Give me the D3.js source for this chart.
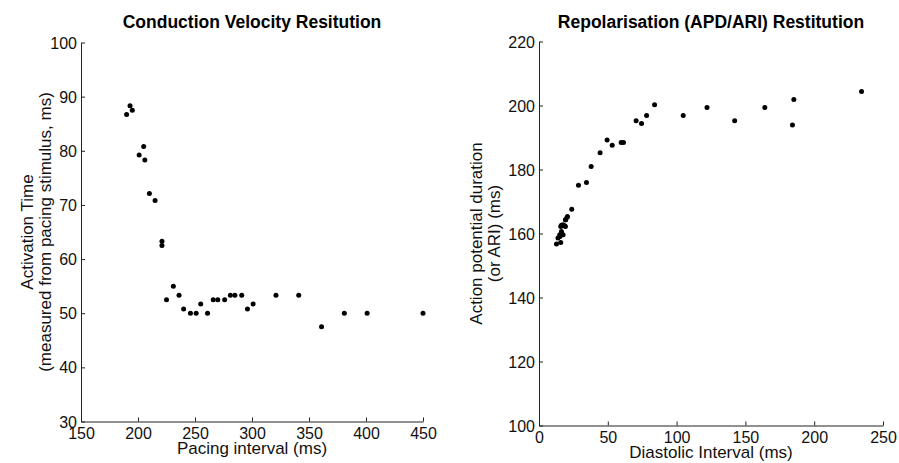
<!DOCTYPE html>
<html>
<head>
<meta charset="utf-8">
<script src="https://cdn.jsdelivr.net/npm/d3@7"></script>
<style>
  body { margin: 0; background: #fff; }
  svg { display: block; font-family: "Liberation Sans", Arial, Helvetica, sans-serif; }
</style>
</head>
<body>
<div id="chart"></div>
<script>
// conduction velocity restitution: pacing interval vs activation time
const cvPacing = [190, 193, 195, 205, 201, 206, 210, 215, 221, 221, 225, 231, 236, 240, 246, 251,
  255, 261, 266, 270, 276, 281, 285, 291, 296, 301, 321, 341, 361, 381, 401, 450];
const cvActivation = [86.7, 88.3, 87.5, 80.8, 79.2, 78.3, 72.1, 70.8, 63.3, 62.5, 52.5, 55.0, 53.3, 50.8, 50.0, 50.0,
  51.7, 50.0, 52.5, 52.5, 52.5, 53.3, 53.3, 53.3, 50.8, 51.7, 53.3, 53.3, 47.5, 50.0, 50.0, 50.0];

// repolarisation restitution: diastolic interval vs APD/ARI
const apdDI = [12.7, 15.8, 13.8, 15.1, 17.5, 16.3, 15.3, 15.8, 19.2, 17.5, 16.3, 18.7, 19.2, 19.4, 20.4, 20.7,
  23.8, 28.7, 34.5, 37.9, 44.4, 49.5, 53.2, 59.7, 61.4, 70.6, 74.5, 78.2, 84.0,
  104.8, 122.1, 142.2, 164.1, 184.2, 185.2, 234.4];
const apdValue = [156.7, 157.2, 158.6, 159.6, 159.6, 160.6, 159.1, 162.2, 162.2, 162.7, 162.6, 162.4, 164.3, 164.3, 165.1, 165.3,
  167.6, 175.1, 175.9, 180.9, 185.2, 189.2, 187.6, 188.4, 188.4, 195.2, 194.4, 196.9, 200.2,
  196.9, 199.4, 195.2, 199.4, 193.9, 201.9, 204.4];

const cvXTicks = [150, 200, 250, 300, 350, 400, 450];
const cvYTicks = [30, 40, 50, 60, 70, 80, 90, 100];
const apdXTicks = [0, 50, 100, 150, 200, 250];
const apdYTicks = [100, 120, 140, 160, 180, 200, 220];

const W = 899, H = 463;
const svg = d3.select("#chart").append("svg")
  .attr("width", W)
  .attr("height", H);

function panel(opts) {
  const x = d3.scaleLinear().domain(d3.extent(opts.xTicks)).range([opts.left, opts.right]);
  const y = d3.scaleLinear().domain(d3.extent(opts.yTicks)).range([opts.bottom, opts.top]);
  const g = svg.append("g");

  const xAxis = g.append("g")
    .attr("transform", `translate(0,${opts.bottom})`)
    .call(d3.axisBottom(x).tickValues(opts.xTicks).tickFormat(d3.format("d"))
      .tickSizeInner(-4).tickSizeOuter(0).tickPadding(6));
  const yAxis = g.append("g")
    .attr("transform", `translate(${opts.left},0)`)
    .call(d3.axisLeft(y).tickValues(opts.yTicks).tickFormat(d3.format("d"))
      .tickSizeInner(-4).tickSizeOuter(0).tickPadding(4));

  [xAxis, yAxis].forEach(a => {
    a.selectAll("path, line").attr("stroke", "#222").attr("stroke-width", 1);
    a.selectAll("text").attr("font-size", 16).attr("fill", "#111")
      .attr("font-family", "Liberation Sans, Arial, sans-serif");
  });
  yAxis.selectAll("text").attr("dy", "0.35em");

  g.selectAll("circle.pt")
    .data(opts.xs.map((v, i) => [v, opts.ys[i]]))
    .join("circle")
    .attr("class", "pt")
    .attr("cx", d => x(d[0]))
    .attr("cy", d => y(d[1]))
    .attr("r", 2.5)
    .attr("fill", "#000");

  const cx = (opts.left + opts.right) / 2;
  const cy = (opts.top + opts.bottom) / 2;

  g.append("text")
    .attr("x", cx).attr("y", 27.5)
    .attr("text-anchor", "middle")
    .attr("font-size", 17.5).attr("font-weight", "bold")
    .attr("fill", "#000")
    .text(opts.title);

  g.append("text")
    .attr("x", cx).attr("y", opts.bottom + 32.5)
    .attr("text-anchor", "middle")
    .attr("font-size", 17)
    .attr("fill", "#111")
    .text(opts.xLabel);

  opts.yLabel.forEach((line, i) => {
    g.append("text")
      .attr("transform", `translate(${opts.yLabelX + i * 18},${cy}) rotate(-90)`)
      .attr("text-anchor", "middle")
      .attr("font-size", 17)
      .attr("fill", "#111")
      .text(line);
  });
}

panel({
  left: 81, right: 423, top: 42.5, bottom: 421.5,
  xTicks: cvXTicks, yTicks: cvYTicks,
  xs: cvPacing, ys: cvActivation,
  title: "Conduction Velocity Resitution",
  xLabel: "Pacing interval (ms)",
  yLabel: ["Activation Time", "(measured from pacing stimulus, ms)"],
  yLabelX: 33
});

panel({
  left: 539, right: 883, top: 41.5, bottom: 425.5,
  xTicks: apdXTicks, yTicks: apdYTicks,
  xs: apdDI, ys: apdValue,
  title: "Repolarisation (APD/ARI) Restitution",
  xLabel: "Diastolic Interval (ms)",
  yLabel: ["Action potential duration", "(or ARI) (ms)"],
  yLabelX: 482
});
</script>
</body>
</html>
